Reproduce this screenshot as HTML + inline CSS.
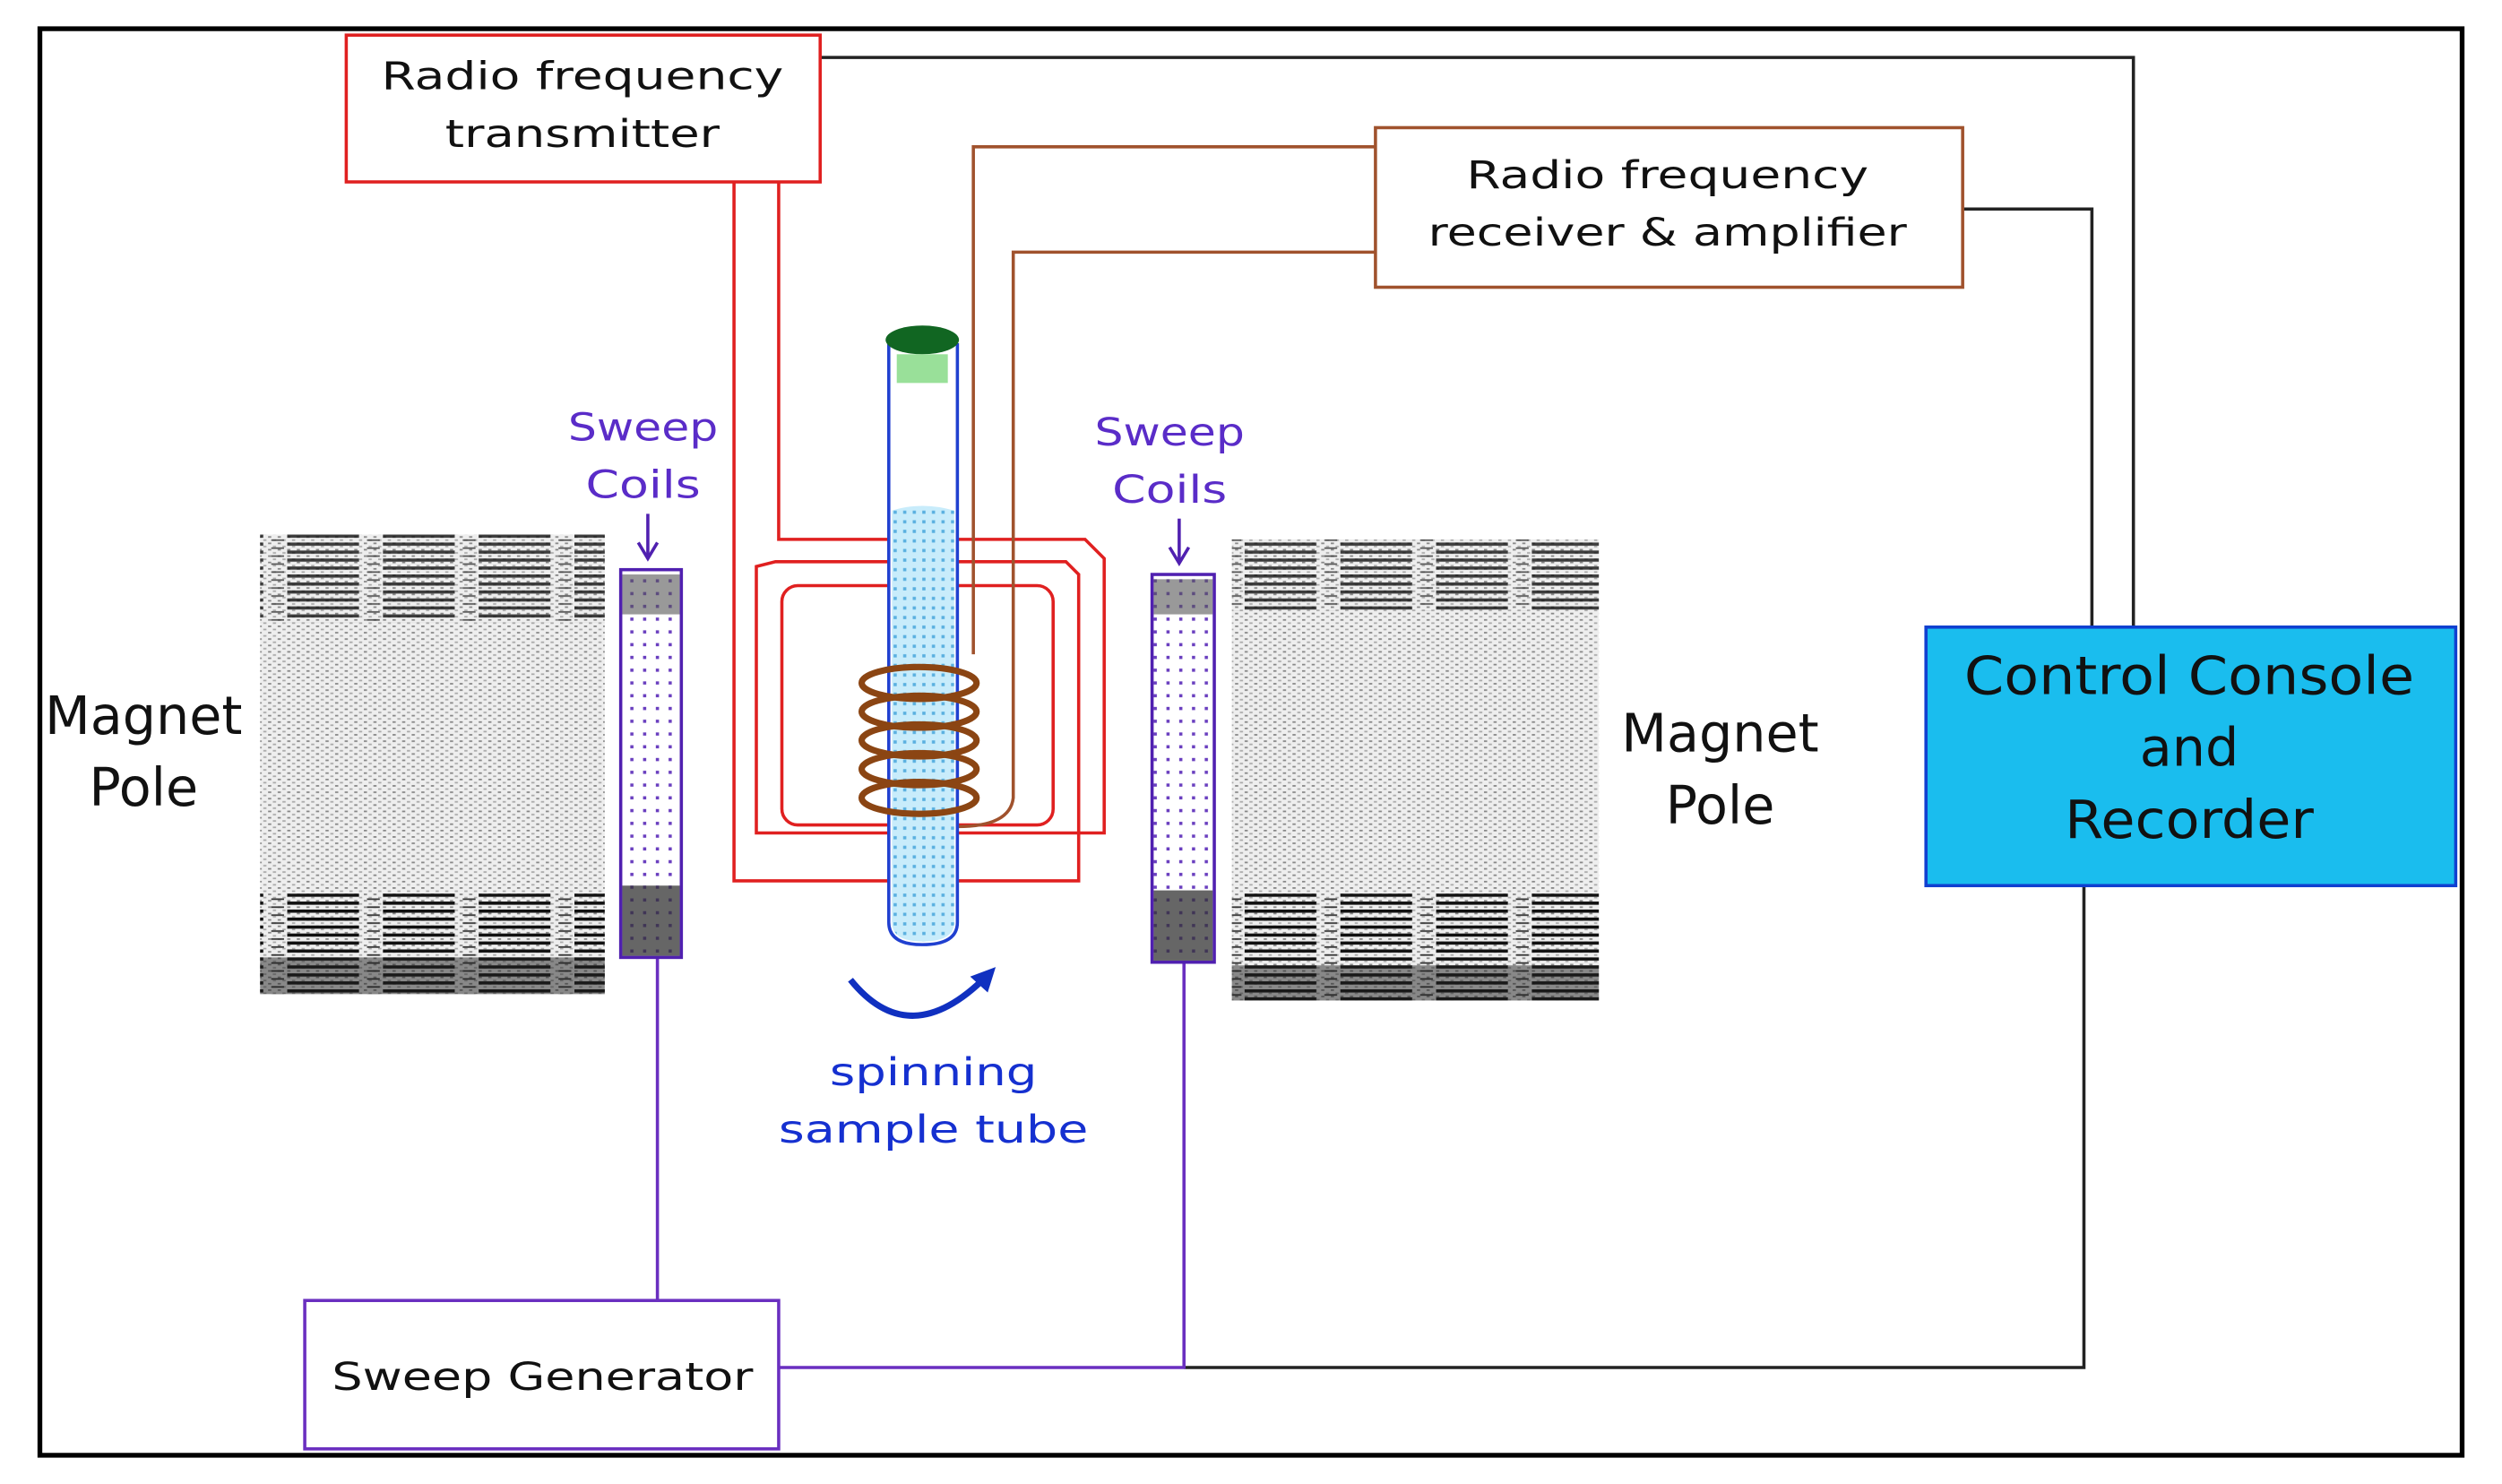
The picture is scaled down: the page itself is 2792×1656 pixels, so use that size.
<!DOCTYPE html>
<html><head><meta charset="utf-8"><style>html,body{margin:0;padding:0;background:#fff}svg{display:block}</style></head>
<body>
<svg width="2792" height="1656" viewBox="0 0 1568 930" xmlns="http://www.w3.org/2000/svg" font-family="'DejaVu Sans','Liberation Sans',sans-serif">
<defs>
<pattern id="stip" width="6" height="4" patternUnits="userSpaceOnUse">
<rect width="6" height="4" fill="#eeeeee"/><rect x="0" y="0" width="2" height="1" fill="#888"/><rect x="3" y="2" width="2" height="1" fill="#aaa"/>
</pattern>
<pattern id="streak" width="60" height="5" patternUnits="userSpaceOnUse">
<rect x="0" y="0" width="45" height="2" fill="#111"/><rect x="50" y="3" width="8" height="1" fill="#333"/>
</pattern>
<pattern id="dots" width="8" height="8" patternUnits="userSpaceOnUse">
<rect width="8" height="8" fill="#fff"/><rect x="3" y="3" width="2" height="2" fill="#6a3fbf"/>
</pattern>
<pattern id="bdots" width="6" height="6" patternUnits="userSpaceOnUse">
<rect width="6" height="6" fill="#c8ecfb"/><rect x="2" y="2" width="2" height="2" fill="#5ab0e0"/>
</pattern>
</defs>
<rect x="0" y="0" width="1568" height="930" fill="#fff"/>
<rect x="25" y="18" width="1518" height="894" fill="none" stroke="#000" stroke-width="3"/>

<polyline points="514,36 1337,36 1337,393" fill="none" stroke="#222" stroke-width="2"/>
<polyline points="1230,131 1311,131 1311,393" fill="none" stroke="#222" stroke-width="2"/>
<polyline points="1306,555 1306,857 742,857" fill="none" stroke="#222" stroke-width="2"/>
<polyline points="488,857 742,857 742,603" fill="none" stroke="#6a2fc0" stroke-width="2"/>
<line x1="412" y1="815" x2="412" y2="600" stroke="#6a2fc0" stroke-width="2"/>

<!-- magnets -->
<rect x="163" y="335" width="216" height="288" fill="url(#stip)"/>
<rect x="163" y="335" width="216" height="55" fill="url(#streak)" opacity="0.8"/>
<rect x="163" y="560" width="216" height="63" fill="url(#streak)"/>
<rect x="163" y="600" width="216" height="23" fill="#222" opacity="0.5"/>
<rect x="772" y="338" width="230" height="289" fill="url(#stip)"/>
<rect x="772" y="338" width="230" height="45" fill="url(#streak)" opacity="0.8"/>
<rect x="772" y="560" width="230" height="67" fill="url(#streak)"/>
<rect x="772" y="605" width="230" height="22" fill="#222" opacity="0.5"/>

<!-- sweep coils -->
<rect x="389" y="357" width="38" height="243" fill="url(#dots)" stroke="#5020b0" stroke-width="2"/>
<rect x="390" y="360" width="36" height="25" fill="#555" opacity="0.6"/>
<rect x="390" y="555" width="36" height="44" fill="#333" opacity="0.75"/>
<rect x="722" y="360" width="39" height="243" fill="url(#dots)" stroke="#5020b0" stroke-width="2"/>
<rect x="723" y="363" width="37" height="22" fill="#555" opacity="0.6"/>
<rect x="723" y="558" width="37" height="44" fill="#333" opacity="0.75"/>

<g fill="none" stroke="#e02020" stroke-width="2">
<polyline points="488,114 488,338 680,338 692,350 692,522 474,522 474,355 486,352 668,352 676,360 676,552 460,552 460,114"/>
<rect x="490" y="367" width="170" height="150" rx="10"/>
</g>
<g fill="none" stroke="#a0522d" stroke-width="2">
<polyline points="862,92 610,92 610,410"/>
<path d="M862,158 L635,158 L635,500 Q633,518 600,518"/>
</g>

<path d="M557,215 L557,578 Q557,592 578,592 Q600,592 600,578 L600,215" fill="#fff" stroke="#2040d0" stroke-width="2"/>
<path d="M559,320 Q578,314 598,320 L598,578 Q598,590 578,590 Q559,590 559,578 Z" fill="url(#bdots)"/>
<ellipse cx="578" cy="213" rx="23" ry="9" fill="#116622"/>
<rect x="562" y="222" width="32" height="18" fill="#55cc55" opacity="0.6"/>
<g fill="none" stroke="#8b4513" stroke-width="4">
<ellipse cx="576" cy="428" rx="36" ry="10"/>
<ellipse cx="576" cy="446" rx="36" ry="10"/>
<ellipse cx="576" cy="464" rx="36" ry="10"/>
<ellipse cx="576" cy="482" rx="36" ry="10"/>
<ellipse cx="576" cy="500" rx="36" ry="10"/>
</g>
<path d="M533,614 Q570,660 618,612" fill="none" stroke="#1030c0" stroke-width="4"/>
<path d="M624,606 L608,612 L619,622 Z" fill="#1030c0"/>

<rect x="217" y="22" width="297" height="92" fill="#fff" stroke="#e02020" stroke-width="2"/>
<rect x="862" y="80" width="368" height="100" fill="#fff" stroke="#a0522d" stroke-width="2"/>
<rect x="1207" y="393" width="332" height="162" fill="#1abdee" stroke="#1040d0" stroke-width="2"/>
<rect x="191" y="815" width="297" height="93" fill="#fff" stroke="#6a2fc0" stroke-width="2"/>

<g font-size="24" fill="#111" text-anchor="middle">
<text x="365" y="56" textLength="252" lengthAdjust="spacingAndGlyphs">Radio frequency</text>
<text x="365" y="92" textLength="172" lengthAdjust="spacingAndGlyphs">transmitter</text>
<text x="1045" y="118" textLength="252" lengthAdjust="spacingAndGlyphs">Radio frequency</text>
<text x="1045" y="154" textLength="300" lengthAdjust="spacingAndGlyphs">receiver &amp; amplifier</text>
<text x="340" y="871" textLength="264" lengthAdjust="spacingAndGlyphs">Sweep Generator</text>
</g>
<g font-size="33" fill="#111" text-anchor="middle">
<text x="90" y="460">Magnet</text>
<text x="90" y="505">Pole</text>
<text x="1078" y="471">Magnet</text>
<text x="1078" y="516">Pole</text>
<text x="1372" y="435" textLength="282" lengthAdjust="spacingAndGlyphs">Control Console</text>
<text x="1372" y="480">and</text>
<text x="1372" y="525" textLength="156" lengthAdjust="spacingAndGlyphs">Recorder</text>
</g>
<g font-size="24" fill="#5a2cc8" text-anchor="middle">
<text x="403" y="276" textLength="94" lengthAdjust="spacingAndGlyphs">Sweep</text>
<text x="403" y="312" textLength="72" lengthAdjust="spacingAndGlyphs">Coils</text>
<text x="733" y="279" textLength="94" lengthAdjust="spacingAndGlyphs">Sweep</text>
<text x="733" y="315" textLength="72" lengthAdjust="spacingAndGlyphs">Coils</text>
</g>
<g stroke="#5020b0" stroke-width="2" fill="none">
<line x1="406" y1="322" x2="406" y2="350"/>
<polyline points="400,340 406,350 412,340"/>
<line x1="739" y1="325" x2="739" y2="353"/>
<polyline points="733,343 739,353 745,343"/>
</g>
<g font-size="24" fill="#1530d0" text-anchor="middle">
<text x="585" y="680" textLength="130" lengthAdjust="spacingAndGlyphs">spinning</text>
<text x="585" y="716" textLength="194" lengthAdjust="spacingAndGlyphs">sample tube</text>
</g>
</svg>
</body></html>
